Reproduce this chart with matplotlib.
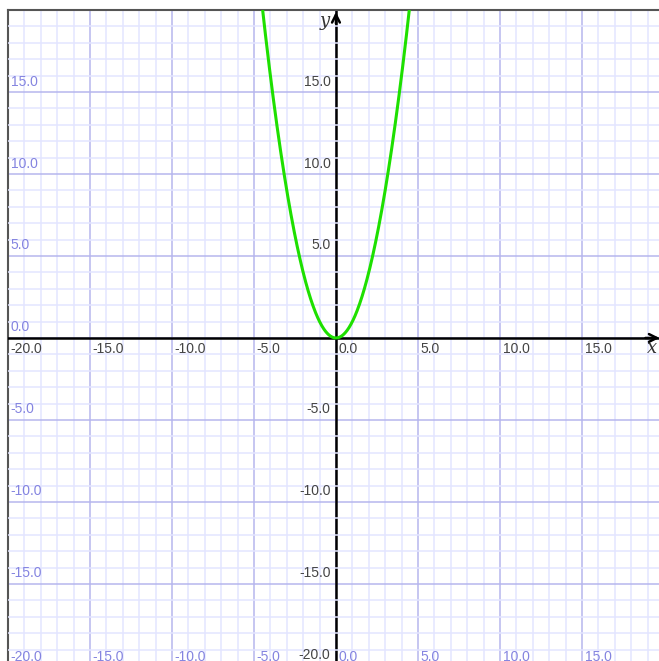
import matplotlib.pyplot as plt
import numpy as np

# visible window of the graph paper
x_range = (-20, 19.7)
y_range = (-19.7, 20)

# labelled grid values
x_labels = [-20, -15, -10, -5, 0, 5, 10, 15]
y_labels = [-20, -15, -10, -5, 5, 10, 15]
edge_y_labels = [15, 10, 5, 0, -5, -10, -15]

# y = a*x^2 + b*x + c
coeffs = [1, 0, 0]

plt.rcParams['font.family'] = ['Liberation Sans', 'DejaVu Sans']

fig = plt.figure(figsize=(6.59, 6.61), dpi=100)
ax = fig.add_axes([8 / 659, 0, 651 / 659, 1 - 10 / 661])
ax.set_xlim(*x_range)
ax.set_ylim(*y_range)
ax.set_xticks([])
ax.set_yticks([])
for side in ['right', 'bottom']:
    ax.spines[side].set_visible(False)
for side in ['left', 'top']:
    ax.spines[side].set_color('#555555')
    ax.spines[side].set_linewidth(1.5)

minor_col = '#e3e5ff'
major_col = '#b6b6ee'
label_blue = '#8484e0'
label_dark = '#444444'
fs = 10

# grid: minor every unit, major every 5
for v in range(-20, 21):
    if v % 5 == 0:
        ax.axvline(v, color=major_col, lw=1.1, zorder=1.5)
        ax.axhline(v, color=major_col, lw=1.1, zorder=1.5)
    else:
        ax.axvline(v, color=minor_col, lw=1.1, zorder=1)
        ax.axhline(v, color=minor_col, lw=1.1, zorder=3)

# coordinate axes
ax.axvline(0, color='black', lw=1.8, zorder=2)
ax.axhline(0, color='black', lw=1.8, zorder=4)
ax.annotate('', xy=(0, y_range[1] + 0.05), xytext=(0, y_range[1] - 1),
            arrowprops=dict(arrowstyle='->', lw=1.8, color='black',
                            mutation_scale=14), annotation_clip=False, zorder=4)
ax.annotate('', xy=(x_range[1] + 0.2, 0), xytext=(x_range[1] - 1, 0),
            arrowprops=dict(arrowstyle='->', lw=1.8, color='black',
                            mutation_scale=14), annotation_clip=False, zorder=4)
ax.text(-0.35, 19.3, 'y', family='DejaVu Serif', style='italic',
        fontsize=13, ha='right', va='center', color='#333333')
ax.text(19.25, -0.6, 'x', family='DejaVu Serif', style='italic',
        fontsize=13, ha='center', va='center', color='#333333')

# labels along the axes
for v in x_labels:
    ax.annotate(f'{v:.1f}', xy=(v, 0), xytext=(2, -3), textcoords='offset points',
                ha='left', va='top', fontsize=fs, color=label_dark, zorder=6)
for v in y_labels:
    ax.annotate(f'{v:.1f}', xy=(0, v), xytext=(-4, 2.5), textcoords='offset points',
                ha='right', va='bottom', fontsize=fs, color=label_dark, zorder=6,
                annotation_clip=False)

# labels along the paper edges (left column and bottom row)
for v in edge_y_labels:
    ax.annotate(f'{v:.1f}', xy=(-20, v), xytext=(2, 2.5), textcoords='offset points',
                ha='left', va='bottom', fontsize=fs, color=label_blue, zorder=6,
                annotation_clip=False)
for v in x_labels:
    ax.annotate(f'{v:.1f}', xy=(v, -20), xytext=(2, 1.5), textcoords='offset points',
                ha='left', va='bottom', fontsize=fs, color=label_blue, zorder=6,
                annotation_clip=False)

# the parabola
xs = np.linspace(-5, 5, 400)
ax.plot(xs, np.polyval(coeffs, xs), color='#1ee000', lw=2.2, zorder=5,
        solid_capstyle='round')

fig.savefig('out.png', dpi=100)
